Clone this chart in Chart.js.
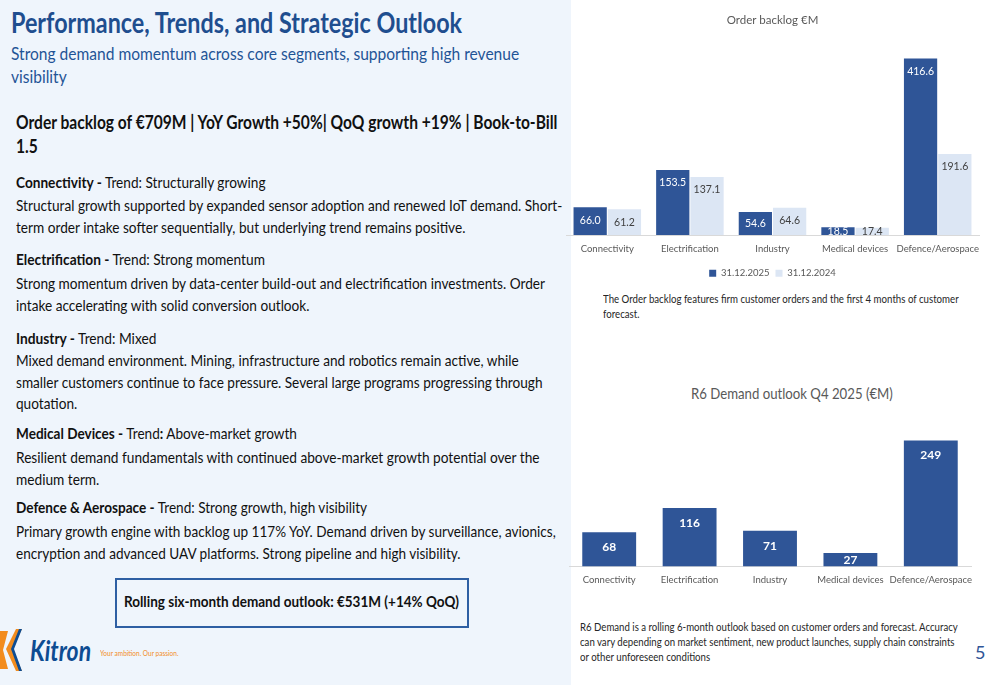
<!DOCTYPE html>
<html>
<head>
<meta charset="utf-8">
<script src="https://cdn.jsdelivr.net/npm/chart.js@4.4.1/dist/chart.umd.min.js"></script>
<style>
  html, body { margin: 0; padding: 0; }
  body { width: 1000px; height: 685px; position: relative; overflow: hidden; background: #fff;
         font-family: Lato, "Noto Sans", sans-serif; color: #111; }
  .left { position: absolute; left: 0; top: 0; width: 571px; height: 685px; background: #EFF5FC; }
  .abs { position: absolute; white-space: nowrap; transform-origin: left top; }
  .title { left: 11px; top: 5px; font-size: 29px; font-weight: bold; color: #1F4E8F; line-height: 34px; }
  .sub { left: 11px; top: 42px; font-size: 18px; color: #1F5496; line-height: 23px; }
  .head { left: 16px; top: 110px; font-size: 19.5px; font-weight: bold; line-height: 24px; }
  .sh { left: 16px; font-size: 16px; line-height: 21px; }
  .sp { left: 16px; font-size: 16px; line-height: 21.5px; }
  .box { position: absolute; left: 115px; top: 578px; width: 350px; height: 46px; border: 2px solid #2E5FA3; }
  .boxtxt { left: 124px; top: 592px; font-size: 15px; font-weight: bold; line-height: 18px; }
  .note { font-size: 11px; line-height: 15px; color: #262626; }
  .page { left: 975px; top: 641px; font-size: 18px; color: #2F5597; }
  .ctitle { font-size: 16px; color: #595959; }
  .chart { position: absolute; }
</style>
</head>
<body>
<div class="left"></div>

<div class="abs title fit" data-w="451">Performance, Trends, and Strategic Outlook</div>
<div class="abs sub fit" data-w="508">Strong demand momentum across core segments, supporting high revenue<br>visibility</div>
<div class="abs head fit" data-w="542">Order backlog of €709M | YoY Growth +50%| QoQ growth +19% | Book-to-Bill<br>1.5</div>

<div class="abs sh fit" data-w="249" style="top:171px"><b>Connectivity -</b> Trend: Structurally growing</div>
<div class="abs sp fit" data-w="546" style="top:194px">Structural growth supported by expanded sensor adoption and renewed IoT demand. Short-<br>term order intake softer sequentially, but underlying trend remains positive.</div>

<div class="abs sh fit" data-w="249" style="top:248px"><b>Electrification -</b> Trend: Strong momentum</div>
<div class="abs sp fit" data-w="529" style="top:272px">Strong momentum driven by data-center build-out and electrification investments. Order<br>intake accelerating with solid conversion outlook.</div>

<div class="abs sh fit" data-w="140" style="top:327px"><b>Industry -</b> Trend: Mixed</div>
<div class="abs sp fit" data-w="527" style="top:349px">Mixed demand environment. Mining, infrastructure and robotics remain active, while<br>smaller customers continue to face pressure. Several large programs progressing through<br>quotation.</div>

<div class="abs sh fit" data-w="281" style="top:422px"><b>Medical Devices -</b> Trend<b>:</b> Above-market growth</div>
<div class="abs sp fit" data-w="523" style="top:446px">Resilient demand fundamentals with continued above-market growth potential over the<br>medium term.</div>

<div class="abs sh fit" data-w="351" style="top:496px"><b>Defence &amp; Aerospace -</b> Trend: Strong growth, high visibility</div>
<div class="abs sp fit" data-w="540" style="top:520px">Primary growth engine with backlog up 117% YoY. Demand driven by surveillance, avionics,<br>encryption and advanced UAV platforms. Strong pipeline and high visibility.</div>

<div class="box"></div>
<div class="abs boxtxt fit" data-w="335">Rolling six-month demand outlook: €531M (+14% QoQ)</div>

<svg class="abs" style="left:0;top:627px" width="26" height="46" viewBox="0 0 26 46">
  <path d="M0 4 L8 4 L3 23 L8 42 L0 42 Z" fill="#F28C1E"/>
  <path d="M22 2 L12 22 L22 44 L16 44 L6 22 L16 2 Z" fill="#F28C1E"/>
  <path d="M22 2 L14 22 L22 44 L19 44 L11 22 L19 2 Z" fill="#0D4C92"/>
</svg>
<div class="abs fit" data-w="61" style="left:30px;top:632px;font-size:29px;font-weight:bold;font-style:italic;color:#0D4C92;">Kitron</div>
<div class="abs fit" data-w="78" style="left:100px;top:649px;font-size:7px;color:#F28C1E;">Your ambition. Our passion.</div>

<div class="chart" style="left:566px;top:0;width:425px;height:288px"><canvas id="backlogChart"></canvas></div>
<div class="abs note fit" data-w="356" style="left:603px;top:291px">The Order backlog features firm customer orders and the first 4 months of customer<br>forecast.</div>

<div class="abs ctitle fit" data-w="202" style="left:691px;top:383px">R6 Demand outlook Q4 2025 (€M)</div>
<div class="chart" style="left:569px;top:428px;width:414px;height:166px"><canvas id="demandChart"></canvas></div>
<div class="abs note fit" data-w="378" style="left:580px;top:619px">R6 Demand is a rolling 6-month outlook based on customer orders and forecast. Accuracy<br>can vary depending on market sentiment, new product launches, supply chain constraints<br>or other unforeseen conditions</div>

<div class="abs page">5</div>

<script>
const FONT = 'Lato, "Noto Sans", sans-serif';

// --- data ---
const segments = ["Connectivity", "Electrification", "Industry", "Medical devices", "Defence/Aerospace"];
const backlog2025 = [66.0, 153.5, 54.6, 18.5, 416.6];
const backlog2024 = [61.2, 137.1, 64.6, 17.4, 191.6];
const demandQ4 = [68, 116, 71, 27, 249];

const DARK = "#2F5597";
const LIGHT = "#DCE6F4";

// squeeze text blocks to the reference width (Calibri is narrower than the installed fonts)
document.querySelectorAll(".fit").forEach(el => {
    const w = parseFloat(el.dataset.w);
    const k = w / el.offsetWidth;
    el.style.transform = `scaleX(${k.toFixed(3)})`;
});

// labels drawn inside bar top (centered when bar is short)
const barLabels = {
    id: "barLabels",
    afterDatasetsDraw(chart, args, opts) {
        const ctx = chart.ctx;
        chart.data.datasets.forEach((ds, di) => {
            const meta = chart.getDatasetMeta(di);
            meta.data.forEach((bar, i) => {
                const h = bar.base - bar.y;
                const y = h >= 2 * opts.offset ? bar.y + opts.offset : (bar.y + bar.base) / 2;
                const txt = opts.decimals ? ds.data[i].toFixed(1) : String(ds.data[i]);
                ctx.save();
                ctx.beginPath();
                ctx.rect(bar.x - bar.width / 2, bar.y, bar.width, h);
                if (di === 0) ctx.clip();
                ctx.font = (opts.bold ? "bold " : "") + opts.size + "px " + FONT;
                ctx.fillStyle = di === 0 ? "#ffffff" : "#404040";
                ctx.textAlign = "center";
                ctx.textBaseline = "middle";
                ctx.fillText(txt, bar.x, y);
                ctx.restore();
            });
        });
    }
};

function xAxis(pad) {
    return {
        grid: { display: false, drawTicks: false },
        border: { color: "#D9D9D9", width: 1 },
        ticks: { color: "#595959", font: { family: FONT, size: 9.5 }, padding: pad, maxRotation: 0, autoSkip: false },
        // long last label may overhang, like the original slide
        afterFit(scale) { scale.paddingLeft = 0; scale.paddingRight = 0; }
    };
}

new Chart(document.getElementById("backlogChart"), {
    type: "bar",
    data: {
        labels: segments,
        datasets: [
            { label: "31.12.2025", data: backlog2025, backgroundColor: DARK, categoryPercentage: 0.83, barPercentage: 0.97 },
            { label: "31.12.2024", data: backlog2024, backgroundColor: LIGHT, categoryPercentage: 0.83, barPercentage: 0.97 }
        ]
    },
    options: {
        responsive: true,
        maintainAspectRatio: false,
        animation: false,
        layout: { padding: { right: 12 } },
        plugins: {
            title: { display: true, text: "Order backlog €M", color: "#595959",
                     font: { family: FONT, size: 11.5, weight: "normal" }, padding: { top: 13, bottom: 21 } },
            legend: { position: "bottom",
                      labels: { color: "#595959", font: { family: FONT, size: 9.5 }, boxWidth: 7, boxHeight: 7, padding: 6 } },
            tooltip: { enabled: false },
            barLabels: { offset: 13, size: 10.5, bold: false, decimals: true }
        },
        scales: {
            x: xAxis(8),
            y: { display: false, min: 0, max: 442 }
        }
    },
    plugins: [barLabels]
});

new Chart(document.getElementById("demandChart"), {
    type: "bar",
    data: {
        labels: segments,
        datasets: [
            { label: "R6 Demand", data: demandQ4, backgroundColor: DARK, categoryPercentage: 0.67, barPercentage: 1 }
        ]
    },
    options: {
        responsive: true,
        maintainAspectRatio: false,
        animation: false,
        layout: { padding: { top: 2, right: 12 } },
        plugins: {
            title: { display: false },
            legend: { display: false },
            tooltip: { enabled: false },
            barLabels: { offset: 15, size: 12, bold: true, decimals: false }
        },
        scales: {
            x: xAxis(8),
            y: { display: false, min: 0, max: 270 }
        }
    },
    plugins: [barLabels]
});
</script>
</body>
</html>
